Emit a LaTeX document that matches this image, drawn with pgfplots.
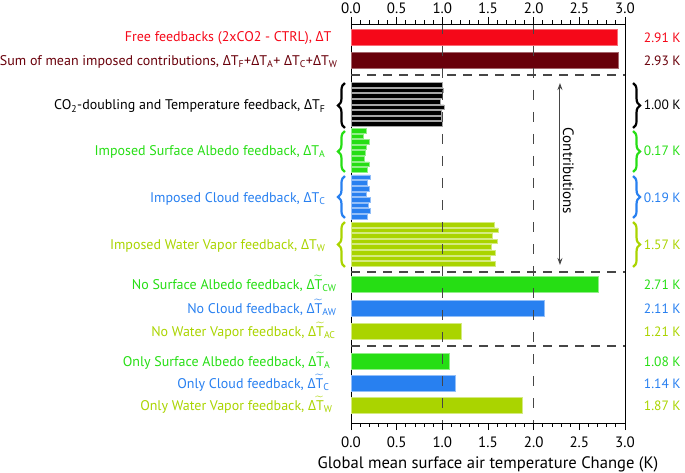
\documentclass[border=0pt]{standalone}
\usepackage{fontspec}
\setmainfont{PT Sans}
\newfontfamily\grk{Open Sans}
\usepackage{amsmath}
\usepackage{pgfplots}
\pgfplotsset{compat=1.18}
\usetikzlibrary{decorations.pathreplacing,arrows.meta}

\definecolor{cred}{RGB}{245,8,25}
\definecolor{cdred}{RGB}{105,0,10}
\definecolor{cgreen}{RGB}{38,222,20}
\definecolor{cblue}{RGB}{40,128,240}
\definecolor{cyg}{RGB}{170,212,0}
\definecolor{cdash}{RGB}{70,70,70}

\newcommand{\lf}{\fontsize{14}{16}\selectfont}
\newcommand{\tf}{\fontsize{15}{17}\selectfont}
\newcommand{\rf}{\fontsize{13.5}{16}\selectfont}
\newcommand{\D}{{\grk Δ}}
\newcommand{\Tt}{$\widetilde{\text{T}}$}
\newcommand{\sub}[1]{\textsubscript{#1}}

\begin{document}
\begin{tikzpicture}[font=\lf]
\path[use as bounding box] (0,0) rectangle (685pt,473pt);
\begin{axis}[
  at={(351pt,50pt)}, anchor=south west,
  scale only axis, width=274pt, height=399pt,
  xmin=0, xmax=3, ymin=24, ymax=423, y dir=reverse,
  xtick={0,0.5,...,3}, minor x tick num=4,
  xtick pos=left, ytick=\empty,
  tick align=outside,
  major tick length=7pt, minor tick length=3.5pt,
  tick style={black, line width=0.8pt},
  axis line style={black, line width=0.9pt},
  xticklabel style={font=\tf, yshift=-3pt},
  /pgf/number format/.cd, fixed, fixed zerofill, precision=1, assume math mode=true,
  /pgfplots/.cd,
  xlabel={Global mean surface air temperature Change (K)},
  xlabel style={at={(axis description cs:0.5,0)}, anchor=base, yshift=-45pt, font=\fontsize{16.6}{18}\selectfont},
  clip=false,
  xbar, bar shift=0pt,
]
% Free feedbacks and sum
\addplot[xbar, bar width=16.5, fill=cred, draw=cred!60!white, line width=0.4pt] coordinates {(2.91,37)};
\addplot[xbar, bar width=16.5, fill=cdred, draw=cdred!60!white, line width=0.4pt] coordinates {(2.93,60)};
% CO2-doubling and temperature feedback members
\addplot[xbar, bar width=4.6, fill=black, draw=gray!70, line width=0.5pt] coordinates {
(1.00,84.8) (1.01,90.4) (1.00,96.0) (0.98,101.6) (1.02,107.2) (0.99,112.8) (0.99,118.4) (1.00,124.0)};
% Imposed surface albedo
\addplot[xbar, bar width=4.6, fill=cgreen, draw=cgreen!50!white, line width=0.5pt] coordinates {
(0.17,130.5) (0.13,136.1) (0.20,141.7) (0.17,147.3) (0.16,152.9) (0.15,158.5) (0.20,164.1) (0.18,169.7)};
% Imposed cloud
\addplot[xbar, bar width=4.6, fill=cblue, draw=cblue!50!white, line width=0.5pt] coordinates {
(0.21,177.3) (0.18,182.9) (0.20,188.5) (0.17,194.1) (0.21,199.7) (0.19,205.3) (0.21,210.9) (0.18,216.5)};
% Imposed water vapor
\addplot[xbar, bar width=4.6, fill=cyg, draw=cyg!50!white, line width=0.5pt] coordinates {
(1.57,224.5) (1.61,230.1) (1.55,235.7) (1.60,241.3) (1.54,246.9) (1.58,252.5) (1.53,258.1) (1.58,263.7)};
% No-feedback experiments
\addplot[xbar, bar width=16.5, fill=cgreen, draw=cgreen!50!white, line width=0.4pt] coordinates {(2.71,284)};
\addplot[xbar, bar width=16.5, fill=cblue, draw=cblue!50!white, line width=0.4pt] coordinates {(2.11,308)};
\addplot[xbar, bar width=16.5, fill=cyg, draw=cyg!50!white, line width=0.4pt] coordinates {(1.21,331)};
% Only-feedback experiments
\addplot[xbar, bar width=16.5, fill=cgreen, draw=cgreen!50!white, line width=0.4pt] coordinates {(1.08,361)};
\addplot[xbar, bar width=16.5, fill=cblue, draw=cblue!50!white, line width=0.4pt] coordinates {(1.14,383)};
\addplot[xbar, bar width=16.5, fill=cyg, draw=cyg!50!white, line width=0.4pt] coordinates {(1.87,405)};

% dashed reference lines
\draw[cdash, line width=1.6pt, dash pattern=on 10pt off 12pt] (axis cs:1,24) -- (axis cs:1,423);
\draw[cdash, line width=1.6pt, dash pattern=on 10pt off 12pt] (axis cs:2,24) -- (axis cs:2,423);
\draw[cdash, line width=1.5pt, dash pattern=on 9pt off 7pt] (axis cs:0,75) -- (axis cs:3,75);
\draw[cdash, line width=1.5pt, dash pattern=on 9pt off 7pt] (axis cs:0,272) -- (axis cs:3,272);
\draw[cdash, line width=1.5pt, dash pattern=on 9pt off 7pt] (axis cs:0,346) -- (axis cs:3,346);

% contributions arrow
\draw[cdash, line width=1pt, {Stealth[length=7pt,width=5pt]}-{Stealth[length=7pt,width=5pt]}] (axis cs:2.288,83) -- (axis cs:2.288,265);
\node[rotate=-90, anchor=center, font=\fontsize{15}{17}\selectfont] at (axis cs:2.38,171) {Contributions};

% left labels
\node[anchor=base east, text=cred] at (axis cs:-0.175,42) {Free feedbacks (2xCO2 - CTRL), \D T};
\node[anchor=base east, text=cdred] at (axis cs:-0.11,65.5) {Sum of mean imposed contributions, \D T\sub{F}+\D T\sub{A}+ \D T\sub{C}+\D T\sub{W}};
\node[anchor=base east, text=black] at (axis cs:-0.241,110) {CO\sub{2}-doubling and Temperature feedback, \D T\sub{F}};
\node[anchor=base east, text=cgreen] at (axis cs:-0.241,155.5) {Imposed Surface Albedo feedback, \D T\sub{A}};
\node[anchor=base east, text=cblue] at (axis cs:-0.241,202.5) {Imposed Cloud feedback, \D T\sub{C}};
\node[anchor=base east, text=cyg] at (axis cs:-0.241,249.5) {Imposed Water Vapor feedback, \D T\sub{W}};
\node[anchor=base east, text=cgreen] at (axis cs:-0.12,289.5) {No Surface Albedo feedback, \D\Tt\sub{CW}};
\node[anchor=base east, text=cblue] at (axis cs:-0.12,313.5) {No Cloud feedback, \D\Tt\sub{AW}};
\node[anchor=base east, text=cyg] at (axis cs:-0.13,336.5) {No Water Vapor feedback, \D\Tt\sub{AC}};
\node[anchor=base east, text=cgreen] at (axis cs:-0.186,366.5) {Only Surface Albedo feedback, \D\Tt\sub{A}};
\node[anchor=base east, text=cblue] at (axis cs:-0.197,388.5) {Only Cloud feedback, \D\Tt\sub{C}};
\node[anchor=base east, text=cyg] at (axis cs:-0.164,410.5) {Only Water Vapor feedback, \D\Tt\sub{W}};

% braces
\draw[decorate, decoration={brace, amplitude=7pt}, line width=2.2pt, black] (axis cs:-0.066,128) -- (axis cs:-0.066,83);
\draw[decorate, decoration={brace, amplitude=7pt}, line width=2.2pt, cgreen] (axis cs:-0.066,172) -- (axis cs:-0.066,131);
\draw[decorate, decoration={brace, amplitude=7pt}, line width=2.2pt, cblue] (axis cs:-0.066,218) -- (axis cs:-0.066,176);
\draw[decorate, decoration={brace, amplitude=7pt}, line width=2.2pt, cyg] (axis cs:-0.066,267) -- (axis cs:-0.066,222);
\draw[decorate, decoration={brace, amplitude=7pt}, line width=2.2pt, black] (axis cs:3.088,83) -- (axis cs:3.088,128);
\draw[decorate, decoration={brace, amplitude=7pt}, line width=2.2pt, cgreen] (axis cs:3.088,131) -- (axis cs:3.088,172);
\draw[decorate, decoration={brace, amplitude=7pt}, line width=2.2pt, cblue] (axis cs:3.088,176) -- (axis cs:3.088,218);
\draw[decorate, decoration={brace, amplitude=7pt}, line width=2.2pt, cyg] (axis cs:3.088,222) -- (axis cs:3.088,267);

% right value labels
\begin{scope}[every node/.style={anchor=base west, font=\rf, inner sep=0pt}]
\node[text=cred] at (axis cs:3.205,42.5) {2.91 K};
\node[text=cdred] at (axis cs:3.205,65.5) {2.93 K};
\node[text=black] at (axis cs:3.205,110) {1.00 K};
\node[text=cgreen] at (axis cs:3.205,155.5) {0.17 K};
\node[text=cblue] at (axis cs:3.205,202.5) {0.19 K};
\node[text=cyg] at (axis cs:3.205,249.5) {1.57 K};
\node[text=cgreen] at (axis cs:3.205,289.5) {2.71 K};
\node[text=cblue] at (axis cs:3.205,313.5) {2.11 K};
\node[text=cyg] at (axis cs:3.205,336.5) {1.21 K};
\node[text=cgreen] at (axis cs:3.205,366.5) {1.08 K};
\node[text=cblue] at (axis cs:3.205,388.5) {1.14 K};
\node[text=cyg] at (axis cs:3.205,410.5) {1.87 K};
\end{scope}
\end{axis}
% top axis with outward ticks and labels
\begin{axis}[
  at={(351pt,50pt)}, anchor=south west,
  scale only axis, width=274pt, height=399pt,
  xmin=0, xmax=3, ymin=0, ymax=1,
  axis x line*=top, axis y line=none,
  xtick={0,0.5,...,3}, minor x tick num=4,
  tick align=outside,
  major tick length=7pt, minor tick length=3.5pt,
  tick style={black, line width=0.8pt},
  axis line style={black, line width=0.9pt},
  xticklabel style={font=\tf},
  /pgf/number format/.cd, fixed, fixed zerofill, precision=1, assume math mode=true,
]
\end{axis}
\end{tikzpicture}
\end{document}
